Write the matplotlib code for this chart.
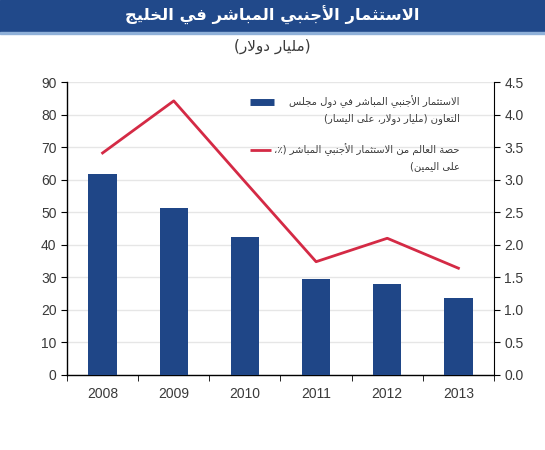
import numpy as np
import matplotlib
matplotlib.use("Agg")
from matplotlib import pyplot as plt
from matplotlib.lines import Line2D

# Data
years = ["2008", "2009", "2010", "2011", "2012", "2013"]
fdi_gcc = [61.7, 51.3, 42.3, 29.4, 27.8, 23.7]          # billion USD, left axis
world_share = [3.41, 4.21, 2.97, 1.74, 2.10, 1.64]     # percent, right axis

title_txt = "الاستثمار الأجنبي المباشر في الخليج"
subtitle_txt = "(مليار دولار)"
legend_bar = ["الاستثمار الأجنبي المباشر في دول مجلس", "التعاون (مليار دولار، على اليسار)"]
legend_line = ["حصة العالم من الاستثمار الأجنبي المباشر (٪،", "على اليمين)"]

left_ticks = list(range(0, 91, 10))
right_ticks = [0.0, 0.5, 1.0, 1.5, 2.0, 2.5, 3.0, 3.5, 4.0, 4.5]

BAR_COLOR = "#1f4687"
LINE_COLOR = "#d42a45"
HEADER_COLOR = "#21498a"
TEXT_COLOR = "#3a3a3a"

# --- minimal Arabic shaping (matplotlib has no bidi/shaping) ---
# forms: (isolated, final, initial, medial); 2-tuples join only to the right
FORMS = {
    "ء": (0xFE80,), "آ": (0xFE81, 0xFE82), "أ": (0xFE83, 0xFE84),
    "ؤ": (0xFE85, 0xFE86), "إ": (0xFE87, 0xFE88), "ئ": (0xFE89, 0xFE8A, 0xFE8B, 0xFE8C),
    "ا": (0xFE8D, 0xFE8E), "ب": (0xFE8F, 0xFE90, 0xFE91, 0xFE92), "ة": (0xFE93, 0xFE94),
    "ت": (0xFE95, 0xFE96, 0xFE97, 0xFE98), "ث": (0xFE99, 0xFE9A, 0xFE9B, 0xFE9C),
    "ج": (0xFE9D, 0xFE9E, 0xFE9F, 0xFEA0), "ح": (0xFEA1, 0xFEA2, 0xFEA3, 0xFEA4),
    "خ": (0xFEA5, 0xFEA6, 0xFEA7, 0xFEA8), "د": (0xFEA9, 0xFEAA), "ذ": (0xFEAB, 0xFEAC),
    "ر": (0xFEAD, 0xFEAE), "ز": (0xFEAF, 0xFEB0), "س": (0xFEB1, 0xFEB2, 0xFEB3, 0xFEB4),
    "ش": (0xFEB5, 0xFEB6, 0xFEB7, 0xFEB8), "ص": (0xFEB9, 0xFEBA, 0xFEBB, 0xFEBC),
    "ض": (0xFEBD, 0xFEBE, 0xFEBF, 0xFEC0), "ط": (0xFEC1, 0xFEC2, 0xFEC3, 0xFEC4),
    "ظ": (0xFEC5, 0xFEC6, 0xFEC7, 0xFEC8), "ع": (0xFEC9, 0xFECA, 0xFECB, 0xFECC),
    "غ": (0xFECD, 0xFECE, 0xFECF, 0xFED0), "ف": (0xFED1, 0xFED2, 0xFED3, 0xFED4),
    "ق": (0xFED5, 0xFED6, 0xFED7, 0xFED8), "ك": (0xFED9, 0xFEDA, 0xFEDB, 0xFEDC),
    "ل": (0xFEDD, 0xFEDE, 0xFEDF, 0xFEE0), "م": (0xFEE1, 0xFEE2, 0xFEE3, 0xFEE4),
    "ن": (0xFEE5, 0xFEE6, 0xFEE7, 0xFEE8), "ه": (0xFEE9, 0xFEEA, 0xFEEB, 0xFEEC),
    "و": (0xFEED, 0xFEEE), "ى": (0xFEEF, 0xFEF0), "ي": (0xFEF1, 0xFEF2, 0xFEF3, 0xFEF4),
}
LAM_ALEF = {"آ": (0xFEF5, 0xFEF6), "أ": (0xFEF7, 0xFEF8), "إ": (0xFEF9, 0xFEFA), "ا": (0xFEFB, 0xFEFC)}
MIRROR = {"(": ")", ")": "("}


def shape_arabic(s):
    # merge lam + alef into ligature tokens
    tokens = []
    i = 0
    while i < len(s):
        if s[i] == "ل" and i + 1 < len(s) and s[i + 1] in LAM_ALEF:
            tokens.append(("LA", s[i + 1]))
            i += 2
        else:
            tokens.append(("C", s[i]))
            i += 1

    def joins_left(tok):  # can connect to the following letter
        return tok[0] == "C" and tok[1] in FORMS and len(FORMS[tok[1]]) == 4

    def is_letter(tok):
        return tok[0] == "LA" or (tok[1] in FORMS and len(FORMS[tok[1]]) > 1)

    out = []
    for k, tok in enumerate(tokens):
        prev = tokens[k - 1] if k > 0 else None
        nxt = tokens[k + 1] if k + 1 < len(tokens) else None
        cp = prev is not None and joins_left(prev)
        if tok[0] == "LA":
            out.append(chr(LAM_ALEF[tok[1]][1 if cp else 0]))
            continue
        ch = tok[1]
        if ch not in FORMS:
            out.append(ch)
            continue
        f = FORMS[ch]
        if len(f) == 1:
            out.append(chr(f[0]))
            continue
        cn = len(f) == 4 and nxt is not None and is_letter(nxt)
        if cp and cn:
            out.append(chr(f[3]))
        elif cn:
            out.append(chr(f[2]))
        elif cp:
            out.append(chr(f[1]))
        else:
            out.append(chr(f[0]))
    # visual order: right to left
    return "".join(MIRROR.get(c, c) for c in reversed(out))


plt.rcParams["font.family"] = ["Liberation Sans", "DejaVu Sans"]
AR_FONT = ["DejaVu Sans"]

fig = plt.figure(figsize=(5.45, 4.5), dpi=100)

# header band
fig.patches.append(plt.Rectangle((0, 1 - 32 / 450), 1, 32 / 450, transform=fig.transFigure,
                                 color=HEADER_COLOR, zorder=0))
fig.patches.append(plt.Rectangle((0, 1 - 34 / 450), 1, 2 / 450, transform=fig.transFigure,
                                 color="#8fb0d8", zorder=0))
fig.text(0.5, 1 - 15 / 450, shape_arabic(title_txt), ha="center", va="center",
         color="white", fontsize=11.8, fontweight="bold", family=AR_FONT)
fig.text(0.5, 1 - 46 / 450, shape_arabic(subtitle_txt), ha="center", va="center",
         color=TEXT_COLOR, fontsize=11, family=AR_FONT)

ax = fig.add_axes([67 / 545, 1 - 375 / 450, (494 - 67) / 545, (375 - 82) / 450])
x = np.arange(len(years))

ax.bar(x, fdi_gcc, width=0.4, color=BAR_COLOR, zorder=3)
ax.set_ylim(0, 90)
ax.set_yticks(left_ticks)
ax.set_xlim(-0.5, len(years) - 0.5)
ax.set_xticks(x)
ax.set_xticklabels(years)
ax.set_xticks(np.arange(-0.5, len(years), 1.0), minor=True)
ax.tick_params(axis="x", which="major", length=0, pad=9, labelsize=10, colors=TEXT_COLOR)
ax.tick_params(axis="x", which="minor", length=4, direction="out", color="black")
ax.tick_params(axis="y", length=4, direction="out", labelsize=10, colors=TEXT_COLOR, color="black")
ax.grid(axis="y", color="#e6e6e6", linewidth=1, zorder=0)
ax.set_axisbelow(True)
for side in ("top", "right"):
    ax.spines[side].set_visible(False)
for side in ("left", "bottom"):
    ax.spines[side].set_color("black")
    ax.spines[side].set_linewidth(1)

ax2 = ax.twinx()
ax2.plot(x, world_share, color=LINE_COLOR, linewidth=2, zorder=4)
ax2.set_ylim(0, 4.5)
ax2.set_yticks(right_ticks)
ax2.set_yticklabels([f"{v:.1f}" for v in right_ticks])
ax2.tick_params(axis="y", length=4, direction="out", labelsize=10, colors=TEXT_COLOR, color="black")
for side in ("top", "left", "bottom"):
    ax2.spines[side].set_visible(False)
ax2.spines["right"].set_color("black")

# legend drawn by hand (right-aligned Arabic text, handle on the left)
tx = 0.92
ax2.add_line(Line2D([0.429, 0.484], [0.932, 0.932], transform=ax2.transAxes,
                    color=BAR_COLOR, linewidth=5, solid_capstyle="butt"))
ax2.add_line(Line2D([0.429, 0.478], [0.768, 0.768], transform=ax2.transAxes,
                    color=LINE_COLOR, linewidth=2, solid_capstyle="butt"))
for y0, lines in ((0.932, legend_bar), (0.768, legend_line)):
    for j, ln in enumerate(lines):
        ax2.text(tx, y0 - j * 0.055, shape_arabic(ln), transform=ax2.transAxes,
                 ha="right", va="center", fontsize=7.2, color=TEXT_COLOR, family=AR_FONT)

fig.savefig("out.png", dpi=100)
